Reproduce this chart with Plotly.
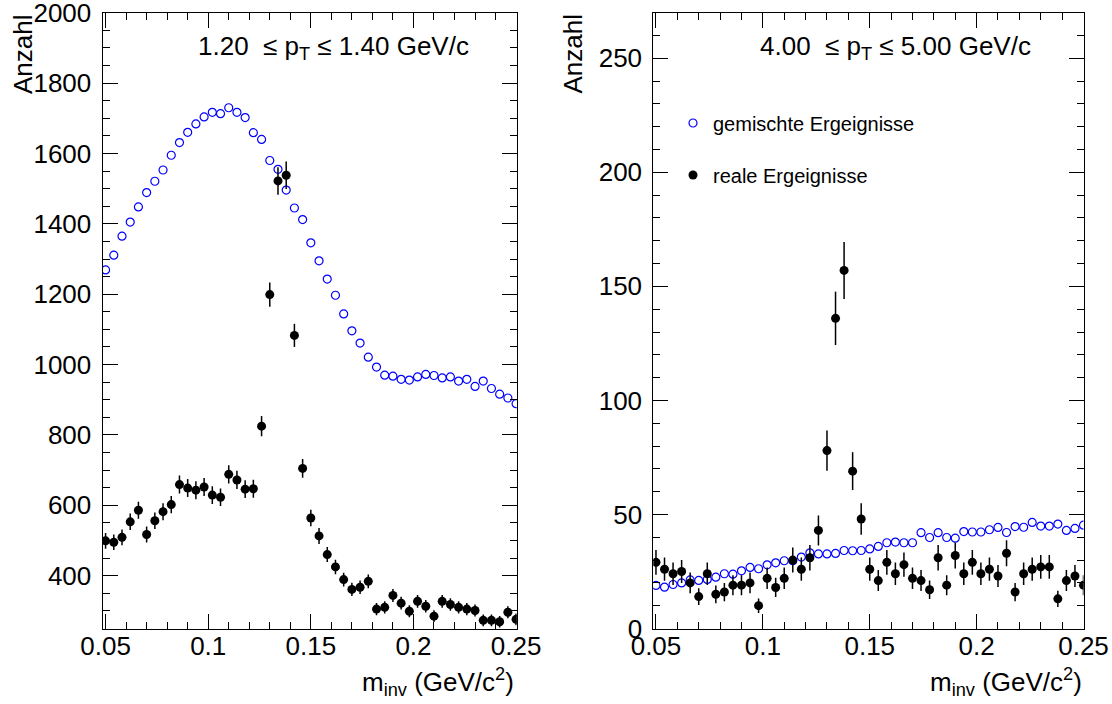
import plotly.graph_objects as go

# ---------------- data ----------------
m_inv = [0.050, 0.054, 0.058, 0.062, 0.066, 0.070, 0.074, 0.078, 0.082, 0.086,
         0.090, 0.094, 0.098, 0.102, 0.106, 0.110, 0.114, 0.118, 0.122, 0.126,
         0.130, 0.134, 0.138, 0.142, 0.146, 0.150, 0.154, 0.158, 0.162, 0.166,
         0.170, 0.174, 0.178, 0.182, 0.186, 0.190, 0.194, 0.198, 0.202, 0.206,
         0.210, 0.214, 0.218, 0.222, 0.226, 0.230, 0.234, 0.238, 0.242, 0.246,
         0.250]

# left panel: 1.20 <= pT <= 1.40 GeV/c
left_mixed = [1269, 1311, 1365, 1405, 1448, 1489, 1521, 1553, 1595, 1631,
              1660, 1684, 1704, 1717, 1713, 1730, 1717, 1702, 1659, 1640,
              1580, 1555, 1496, 1445, 1412, 1346, 1295, 1243, 1197, 1144,
              1096, 1061, 1021, 993, 970, 967, 958, 956, 965, 972,
              969, 962, 965, 953, 958, 938, 953, 932, 916, 905,
              889]
left_real = [499, 495, 509, 553, 586, 517, 556, 582, 602, 659,
             649, 643, 652, 629, 623, 688, 672, 646, 647, 825,
             1199, 1522, 1538, 1083, 705, 564, 513, 460, 425, 389,
             361, 367, 384, 305, 310, 344, 322, 299, 327, 313,
             285, 327, 318, 310, 305, 301, 273, 273, 269, 296,
             276]
left_real_err = [22.3, 22.2, 22.6, 23.5, 24.2, 22.7, 23.6, 24.1, 24.5, 25.7,
                 25.5, 25.4, 25.5, 25.1, 25.0, 26.2, 25.9, 25.4, 25.4, 28.7,
                 34.6, 39.0, 39.2, 32.9, 26.6, 23.7, 22.6, 21.4, 20.6, 19.7,
                 19.0, 19.2, 19.6, 17.5, 17.6, 18.5, 17.9, 17.3, 18.1, 17.7,
                 16.9, 18.1, 17.8, 17.6, 17.5, 17.3, 16.5, 16.5, 16.4, 17.2,
                 16.6]

# right panel: 4.00 <= pT <= 5.00 GeV/c
right_mixed = [18.9, 18.1, 19.3, 20.0, 21.3, 21.1, 21.5, 22.5, 24.0, 23.8,
               25.3, 26.8, 26.2, 27.9, 28.8, 29.7, 29.7, 31.3, 33.2, 32.7,
               32.7, 32.9, 34.2, 34.1, 34.2, 34.9, 36.0, 37.6, 37.9, 37.6,
               37.6, 42.0, 39.9, 42.0, 39.9, 39.6, 42.5, 42.3, 42.3, 43.3,
               44.3, 42.1, 44.7, 44.4, 46.5, 44.9, 44.9, 45.8, 43.0, 43.9,
               45.3]
right_real = [29, 26, 24, 25, 20, 14, 24, 15, 16, 19,
              19, 20, 10, 22, 18, 22, 30, 26, 31, 43,
              78, 136, 157, 69, 48, 26, 21, 29, 24, 28,
              22, 21, 17, 31, 19, 32, 24, 29, 24, 26,
              23, 33, 16, 24, 26, 27, 27, 13, 21, 23,
              19]
right_real_err = [5.4, 5.1, 4.9, 5.0, 4.5, 3.7, 4.9, 3.9, 4.0, 4.4,
                  4.4, 4.5, 3.2, 4.7, 4.2, 4.7, 5.5, 5.1, 5.6, 6.6,
                  8.8, 11.7, 12.5, 8.3, 6.9, 5.1, 4.6, 5.4, 4.9, 5.3,
                  4.7, 4.6, 4.1, 5.6, 4.4, 5.7, 4.9, 5.4, 4.9, 5.1,
                  4.8, 5.7, 4.0, 4.9, 5.1, 5.2, 5.2, 3.6, 4.6, 4.8,
                  4.4]

panel_labels = ["1.20\u00a0\u00a0\u2264 p<sub>T</sub> \u2264 1.40 GeV/c",
                "4.00\u00a0\u00a0\u2264 p<sub>T</sub> \u2264 5.00 GeV/c"]
legend_names = ["gemischte Ergeignisse", "reale Ergeignisse"]
x_title = "m<sub>inv</sub> (GeV/c<sup>2</sup>)"
y_title = "Anzahl"

# ---------------- figure ----------------
W, H = 1112, 704
FONT = "Liberation Sans, Arial, Helvetica, sans-serif"
BLUE = "#0000ff"

fig = go.Figure()

mixed_marker = dict(symbol="circle-open", size=8, color=BLUE, line=dict(color=BLUE, width=1.2))
real_marker = dict(symbol="circle", size=9, color="black")

fig.add_trace(go.Scatter(x=m_inv, y=left_mixed, mode="markers", marker=mixed_marker,
                         xaxis="x", yaxis="y", showlegend=False))
fig.add_trace(go.Scatter(x=m_inv, y=left_real, mode="markers", marker=real_marker,
                         error_y=dict(type="data", array=left_real_err, width=0,
                                      color="black", thickness=1.5),
                         xaxis="x", yaxis="y", showlegend=False))
fig.add_trace(go.Scatter(x=m_inv, y=right_mixed, mode="markers", marker=mixed_marker,
                         xaxis="x2", yaxis="y2", name=legend_names[0],
                         showlegend=True, legend="legend"))
fig.add_trace(go.Scatter(x=m_inv, y=right_real, mode="markers", marker=real_marker,
                         error_y=dict(type="data", array=right_real_err, width=0,
                                      color="black", thickness=1.5),
                         xaxis="x2", yaxis="y2", name=legend_names[1],
                         showlegend=True, legend="legend2"))

def px_x(p):
    return p / W

def px_y(p):
    return 1 - p / H

ydom = [px_y(628.5), px_y(12.7)]

common_x = dict(
    showline=True, linecolor="black", linewidth=1, mirror="ticks",
    ticks="inside", ticklen=15, tickwidth=1, tickcolor="black",
    tick0=0.05, dtick=0.05, showgrid=False, zeroline=False,
    tickfont=dict(family=FONT, size=26, color="black"),
    minor=dict(ticks="inside", ticklen=7, dtick=0.01, tick0=0.05,
               tickcolor="black", tickwidth=1, showgrid=False),
    automargin=False, ticklabelstandoff=-6, ticklabeloverflow="allow",
)
common_y = dict(
    showline=True, linecolor="black", linewidth=1, mirror="ticks",
    ticks="inside", ticklen=15, tickwidth=1, tickcolor="black",
    showgrid=False, zeroline=False,
    tickfont=dict(family=FONT, size=26, color="black"),
    automargin=False, ticklabelstandoff=5, ticklabeloverflow="allow",
)

fig.update_layout(
    width=W, height=H,
    margin=dict(l=0, r=0, t=0, b=0),
    paper_bgcolor="white", plot_bgcolor="white",
    font=dict(family=FONT, size=26, color="black"),
    xaxis=dict(domain=[px_x(102.5), px_x(516.7)], range=[0.0485, 0.2503],
               anchor="y", **common_x),
    yaxis=dict(domain=ydom, range=[249.9, 2000.1], dtick=200, tick0=0,
               minor=dict(ticks="inside", ticklen=7, dtick=50, tick0=0,
                          tickcolor="black", tickwidth=1, showgrid=False),
               anchor="x", **common_y),
    xaxis2=dict(domain=[px_x(653.3), px_x(1083.5)], range=[0.04875, 0.2500],
                anchor="y2", **common_x),
    yaxis2=dict(domain=ydom, range=[0, 270], dtick=50, tick0=0,
                minor=dict(ticks="inside", ticklen=7, dtick=10, tick0=0,
                           tickcolor="black", tickwidth=1, showgrid=False),
                anchor="x2", **common_y),
    legend=dict(x=px_x(673), y=px_y(123), xanchor="left", yanchor="middle",
                bgcolor="rgba(0,0,0,0)", borderwidth=0,
                font=dict(family=FONT, size=20, color="black")),
    legend2=dict(x=px_x(673), y=px_y(175), xanchor="left", yanchor="middle",
                 bgcolor="rgba(0,0,0,0)", borderwidth=0,
                 font=dict(family=FONT, size=20, color="black")),
)

annotations = []
# panel labels
for txt, xl in zip(panel_labels, [196, 758]):
    annotations.append(dict(text=txt, xref="paper", yref="paper",
                            x=px_x(xl), y=px_y(29), xanchor="left", yanchor="top",
                            showarrow=False, font=dict(family=FONT, size=26, color="black")))
# x titles
for xr in ["x", "x2"]:
    annotations.append(dict(text=x_title, xref=xr, yref="paper", x=0.25, y=px_y(662),
                            xanchor="right", yanchor="top", showarrow=False,
                            font=dict(family=FONT, size=26, color="black")))
# y titles
for xc in [23, 572.5]:
    annotations.append(dict(text=y_title, xref="paper", yref="paper", x=px_x(xc), y=px_y(12),
                            xanchor="center", yanchor="top", textangle=-90, showarrow=False,
                            font=dict(family=FONT, size=26, color="black")))

fig.update_layout(annotations=annotations)

fig.write_html("out.html")
